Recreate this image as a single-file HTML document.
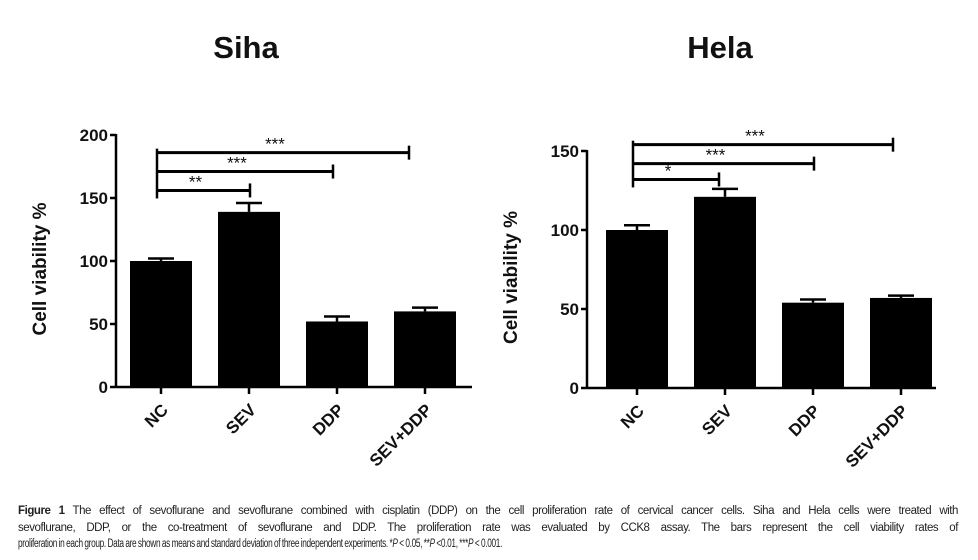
<!DOCTYPE html>
<html><head><meta charset="utf-8"><style>
body{margin:0;width:978px;height:560px;background:#fff;overflow:hidden;position:relative;font-family:"Liberation Sans",sans-serif}
.cap{position:absolute;left:18px;width:940px;font-size:11.5px;line-height:16.5px;color:#222;letter-spacing:-0.45px;word-spacing:-0.5px}
.ln{white-space:nowrap;text-align:justify;text-align-last:justify;height:16.5px}
.l3{white-space:nowrap;display:inline-block;transform:scaleX(0.72);transform-origin:0 0}
</style></head><body>
<svg id="chart" width="978" height="500" style="position:absolute;left:0;top:0" font-family="Liberation Sans, sans-serif"></svg>
<div class="cap" style="top:503px">
<div class="ln"><b>Figure 1</b> The effect of sevoflurane and sevoflurane combined with cisplatin (DDP) on the cell proliferation rate of cervical cancer cells. Siha and Hela cells were treated with</div>
<div class="ln">sevoflurane, DDP, or the co-treatment of sevoflurane and DDP. The proliferation rate was evaluated by CCK8 assay. The bars represent the cell viability rates of</div>
<div class="l3">proliferation in each group. Data are shown as means and standard deviation of three independent experiments. *<i>P</i> &lt; 0.05, **<i>P</i> &lt;0.01, ***<i>P</i> &lt; 0.001.</div>
</div>
<script>
const categories = ["NC","SEV","DDP","SEV+DDP"];
const sihaValues = [100,139,52,60];
const sihaErrors = [2,7,4,3];
const sihaTicks = [0,50,100,150,200];
const sihaSigTo = [1,2,3];
const sihaSigLabels = ["**","***","***"];
const sihaSigLevels = [156,171,186];
const helaValues = [100,121,54,57];
const helaErrors = [3,5,2,1.5];
const helaTicks = [0,50,100,150];
const helaSigTo = [1,2,3];
const helaSigLabels = ["*","***","***"];
const helaSigLevels = [132,142,154];

const svg = document.getElementById('chart');
const NS = 'http://www.w3.org/2000/svg';
function mk(tag, attrs, name){
  const e = document.createElementNS(NS, tag);
  for (const k in attrs) e.setAttribute(k, attrs[k]);
  
  
  svg.appendChild(e);
  return e;
}
function panel(p){
  const y = v => p.y0 - (v / p.yMax) * (p.y0 - p.yTop);
  const xc = i => p.firstC + i * p.step;
  const t = mk('text',{x:p.titleX,y:58,'font-size':31,'font-weight':'bold','text-anchor':'middle',fill:'#111'}, p.id+'-title');
  t.textContent = p.title;
  mk('line',{x1:p.ax,y1:y(p.yMax)-1,x2:p.ax,y2:p.y0,stroke:'#000','stroke-width':2.5}, p.id+'-y-axis');
  mk('line',{x1:p.ax,y1:p.y0,x2:p.xEnd,y2:p.y0,stroke:'#000','stroke-width':2.5}, p.id+'-x-axis');
  p.ticks.forEach(v=>{
    mk('line',{x1:p.ax-6,y1:y(v),x2:p.ax,y2:y(v),stroke:'#000','stroke-width':2.5}, p.id+'-y-tick');
    const tl = mk('text',{x:p.ax-8,y:y(v)+6,'font-size':17,'font-weight':'bold','text-anchor':'end',fill:'#111'}, p.id+'-y-tick-label');
    tl.textContent = v;
  });
  const yl = mk('text',{x:0,y:0,'font-size':19,'font-weight':'bold','text-anchor':'middle',fill:'#111',transform:`translate(${p.ax-70},${(p.y0+y(p.yMax))/2+8}) rotate(-90)`}, p.id+'-y-axis-title');
  yl.textContent = 'Cell viability %';
  categories.forEach((c,i)=>{
    const v = p.values[i], e = p.errors[i], cx = xc(i);
    mk('line',{x1:cx,y1:y(v+e),x2:cx,y2:y(v),stroke:'#000','stroke-width':2.5}, p.id+'-error-bar');
    mk('line',{x1:cx-13,y1:y(v+e),x2:cx+13,y2:y(v+e),stroke:'#000','stroke-width':2.5}, p.id+'-error-cap');
    mk('rect',{x:cx-31,y:y(v),width:62,height:p.y0-y(v),fill:'#000'}, p.id+'-bar-'+c.toLowerCase().replace('+','-'));
    mk('line',{x1:cx,y1:p.y0,x2:cx,y2:p.y0+7,stroke:'#000','stroke-width':2.5}, p.id+'-x-tick');
    const lx = cx+8, ly = p.y0+24;
    const lab = mk('text',{x:lx,y:ly,'font-size':17,'font-weight':'bold','text-anchor':'end',fill:'#111',transform:`rotate(-45 ${lx} ${ly})`}, p.id+'-x-label');
    lab.textContent = c;
  });
  const x0 = xc(0) - 4;
  const lvls = p.sigLevels;
  mk('line',{x1:x0,y1:y(Math.max(...lvls))-4,x2:x0,y2:y(Math.min(...lvls))+8,stroke:'#000','stroke-width':2.5}, p.id+'-sig-left-cap');
  p.sigTo.forEach((j,k)=>{
    const ly = y(lvls[k]), x1 = xc(j) + p.endOff[k];
    mk('line',{x1:x0,y1:ly,x2:x1,y2:ly,stroke:'#000','stroke-width':3}, p.id+'-sig-bracket');
    mk('line',{x1:x1,y1:ly-7,x2:x1,y2:ly+7,stroke:'#000','stroke-width':2.5}, p.id+'-sig-right-cap');
    const st = mk('text',{x:(x0+x1)/2-8,y:ly-3,'font-size':17,'text-anchor':'middle',fill:'#111'}, p.id+'-sig-label');
    st.textContent = p.sigLabels[k];
  });
}
panel({id:'siha',title:'Siha',titleX:246,ax:116,y0:387,yTop:135,yMax:200,firstC:161,step:88,xEnd:472,endOff:[1,-4,-16],
  values:sihaValues,errors:sihaErrors,ticks:sihaTicks,sigTo:sihaSigTo,sigLabels:sihaSigLabels,sigLevels:sihaSigLevels});
panel({id:'hela',title:'Hela',titleX:720,ax:587,y0:388,yTop:151,yMax:150,firstC:637,step:88,xEnd:936,endOff:[-6,1,-8],
  values:helaValues,errors:helaErrors,ticks:helaTicks,sigTo:helaSigTo,sigLabels:helaSigLabels,sigLevels:helaSigLevels});
</script>
</body></html>
